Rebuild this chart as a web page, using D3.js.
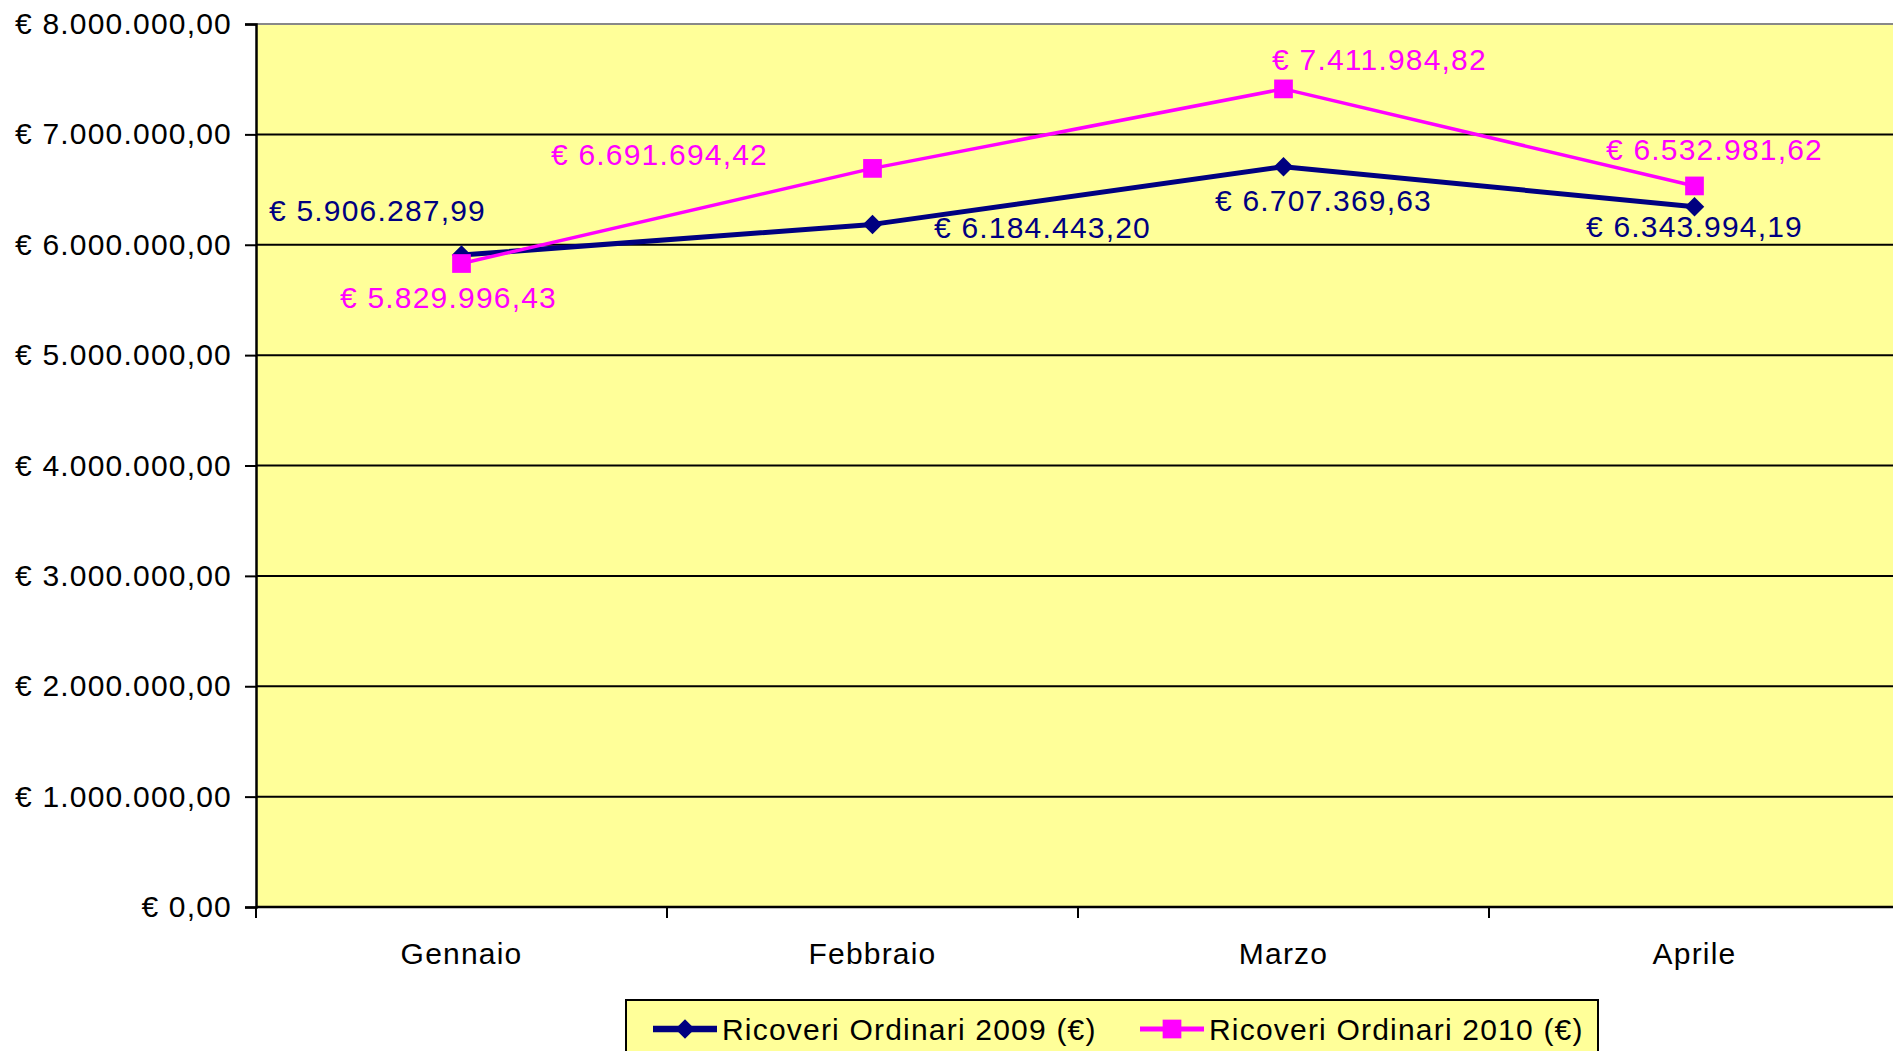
<!DOCTYPE html>
<html><head><meta charset="utf-8">
<script src="https://cdn.jsdelivr.net/npm/d3@7"></script>
<style>html,body{margin:0;padding:0;background:#fff;overflow:hidden}svg{display:block}text{font-family:"Liberation Sans",Arial,sans-serif;letter-spacing:1.2px}</style>
</head><body>
<script>
const months = ["Gennaio", "Febbraio", "Marzo", "Aprile"];
const values2009 = [5906287.99, 6184443.20, 6707369.63, 6343994.19];
const values2010 = [5829996.43, 6691694.42, 7411984.82, 6532981.62];
const seriesNames = ["Ricoveri Ordinari 2009 (€)", "Ricoveri Ordinari 2010 (€)"];
const yTicks = [0, 1000000, 2000000, 3000000, 4000000, 5000000, 6000000, 7000000, 8000000];

(function () {
const W = 1893, H = 1051;
const pLeft = 256, pTop = 24, pBottom = 907, band = 411;
const FS = 30;
const it = d3.formatLocale({decimal: ",", thousands: ".", grouping: [3], currency: ["€ ", ""]});
const fmt = it.format("$,.2f");

const svg = d3.select("body").append("svg").attr("width", W).attr("height", H);
const x = d3.scaleBand().domain(months).range([pLeft, pLeft + band * months.length]);
const y = d3.scaleLinear().domain([0, 8000000]).range([pBottom, pTop]);

svg.append("rect").attr("x", pLeft).attr("y", pTop).attr("width", band * months.length).attr("height", pBottom - pTop)
  .attr("fill", "#FFFF99");
svg.append("g").selectAll("line").data(yTicks.filter(t => t > 0 && t < 8000000)).join("line")
  .attr("x1", pLeft).attr("x2", pLeft + band * months.length)
  .attr("y1", d => y(d)).attr("y2", d => y(d)).attr("stroke", "#000").attr("stroke-width", 2);
svg.append("line").attr("x1", pLeft).attr("x2", W).attr("y1", y(8000000)).attr("y2", y(8000000))
  .attr("stroke", "#888").attr("stroke-width", 2);

const yAxis = d3.axisLeft(y).tickValues(yTicks).tickFormat(fmt).tickSize(11).tickPadding(13);
const gy = svg.append("g").attr("transform", `translate(${pLeft},0)`).call(yAxis);
gy.select(".domain").attr("stroke", "#000").attr("stroke-width", 2.5);
gy.selectAll(".tick line").attr("stroke", "#000").attr("stroke-width", 2);
gy.selectAll(".tick text").attr("font-size", FS).attr("fill", "#000").attr("font-family", "Liberation Sans, Arial, sans-serif");

const xAxis = d3.axisBottom(x).tickSize(0).tickPadding(36);
const gx = svg.append("g").attr("transform", `translate(0,${pBottom})`).call(xAxis);
gx.select(".domain").remove();
svg.append("line").attr("x1", pLeft).attr("x2", W).attr("y1", pBottom).attr("y2", pBottom).attr("stroke", "#000").attr("stroke-width", 2.5);
gx.selectAll(".tick text").attr("font-size", FS).attr("fill", "#000").attr("font-family", "Liberation Sans, Arial, sans-serif");
svg.append("g").selectAll("line").data(d3.range(months.length + 1)).join("line")
  .attr("x1", i => pLeft + i * x.step()).attr("x2", i => pLeft + i * x.step())
  .attr("y1", pBottom).attr("y2", pBottom + 11).attr("stroke", "#000").attr("stroke-width", 2);

const cx = m => x(m) + x.bandwidth() / 2;
const line = d3.line().x((d, i) => cx(months[i])).y(d => y(d));

const diamond = {draw(ctx, size) {
  const r = Math.sqrt(size / 2);
  ctx.moveTo(0, -r); ctx.lineTo(r, 0); ctx.lineTo(0, r); ctx.lineTo(-r, 0); ctx.closePath();
}};

const series = [
  {vals: values2009, color: "#000080", width: 5, shape: diamond, size: 190,
   off: [[-84, -45], [170, 3], [40, 34], [0, 20]]},
  {vals: values2010, color: "#FF00FF", width: 3.5, shape: d3.symbolSquare, size: 350,
   off: [[-13, 34], [-213, -14], [96, -29], [20, -36]]}
];

series.forEach(s => {
  svg.append("path").datum(s.vals).attr("d", line).attr("fill", "none")
    .attr("stroke", s.color).attr("stroke-width", s.width).attr("stroke-linejoin", "round");
});
series.forEach(s => {
  svg.append("g").selectAll("path").data(s.vals).join("path")
    .attr("d", d3.symbol().type(s.shape).size(s.size))
    .attr("transform", (d, i) => `translate(${cx(months[i])},${y(d)})`)
    .attr("fill", s.color);
});
series.forEach(s => {
  svg.append("g").selectAll("text").data(s.vals).join("text")
    .attr("x", (d, i) => cx(months[i]) + s.off[i][0])
    .attr("y", (d, i) => y(d) + s.off[i][1])
    .attr("text-anchor", "middle").attr("dominant-baseline", "central")
    .attr("font-size", FS).attr("fill", s.color).text(d => fmt(d));
});

const lg = svg.append("g");
lg.append("rect").attr("x", 626).attr("y", 1000).attr("width", 972).attr("height", 70)
  .attr("fill", "#FFFF99").attr("stroke", "#000").attr("stroke-width", 2);
const legendX = [653, 1140];
series.forEach((s, i) => {
  const lx = legendX[i], ly = 1029;
  lg.append("line").attr("x1", lx).attr("x2", lx + 64).attr("y1", ly).attr("y2", ly)
    .attr("stroke", s.color).attr("stroke-width", s.width + 1.5);
  lg.append("path").attr("d", d3.symbol().type(s.shape).size(s.size)).attr("fill", s.color)
    .attr("transform", `translate(${lx + 32},${ly})`);
  lg.append("text").attr("x", lx + 69).attr("y", ly).attr("dominant-baseline", "central")
    .attr("font-size", FS).attr("fill", "#000").text(seriesNames[i]);
});
})();
</script>
</body></html>
